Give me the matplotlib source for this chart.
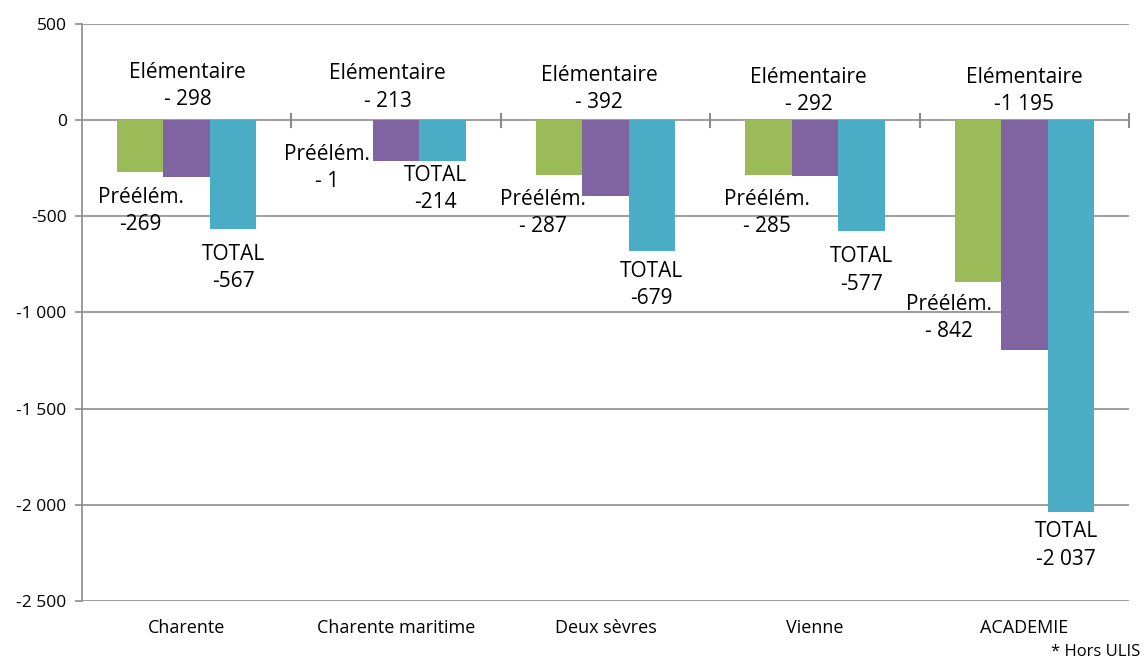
import matplotlib
matplotlib.use("Agg")
import matplotlib.pyplot as plt
import numpy as np

plt.rcParams['font.family'] = ['Open Sans', 'DejaVu Sans']

categories = ["Charente", "Charente maritime", "Deux sèvres", "Vienne", "ACADEMIE"]
preelem = [-269, -1, -287, -285, -842]
elem = [-298, -213, -392, -292, -1195]
total = [-567, -214, -679, -577, -2037]

preelem_txt = ["-269", "- 1", "- 287", "- 285", "- 842"]
elem_txt = ["- 298", "- 213", "- 392", "- 292", "-1 195"]
total_txt = ["-567", "-214", "-679", "-577", "-2 037"]

yticks = [500, 0, -500, -1000, -1500, -2000, -2500]
ytick_labels = ["500", "0", "-500", "-1 000", "-1 500", "-2 000", "-2 500"]

# label anchor positions (x offset from category centre, y in data units)
elem_pos = [(0.005, 179), (-0.04, 169), (-0.03, 163), (-0.03, 153), (0.0, 153)]
pre_pos = [(-0.22, -472), (-0.33, -249), (-0.30, -483), (-0.23, -483), (-0.36, -1028)]
tot_pos = [(0.225, -768), (0.19, -358), (0.22, -856), (0.22, -781), (0.20, -2211)]

colors = ["#9BBB59", "#8064A2", "#4BACC6"]
grid_c = "#8C8C8C"

fig = plt.figure(figsize=(11.45, 6.61), dpi=100)
ax = fig.add_axes([0.0716, 0.0908, 0.9145, 0.8729])

x = np.arange(len(categories))
w = 0.222
for k, (vals, c) in enumerate(zip([preelem, elem, total], colors)):
    ax.bar(x + (k - 1) * w, vals, width=w, color=c, zorder=3, linewidth=0)

ax.set_xlim(-0.5, len(categories) - 0.5)
ax.set_ylim(-2500, 500)
ax.set_yticks(yticks)
ax.set_yticklabels(ytick_labels, fontsize=12.5)
ax.yaxis.grid(True, color=grid_c, linewidth=1.2, zorder=0)
ax.tick_params(axis='y', length=5, color=grid_c, width=1.2, pad=6)
ax.set_xticks(x)
ax.set_xticklabels(categories, fontsize=13)
ax.tick_params(axis='x', length=0, pad=13)

for s in ['top', 'right', 'bottom']:
    ax.spines[s].set_visible(False)
ax.spines['left'].set_color(grid_c)
ax.spines['left'].set_linewidth(1.2)

# category tick marks on the zero axis
for b in np.arange(0.5, len(categories), 1.0):
    ax.plot([b, b], [-33, 33], color=grid_c, linewidth=1.5, zorder=4, clip_on=False)

fs = 15
for i in range(len(categories)):
    ax.text(x[i] + elem_pos[i][0], elem_pos[i][1], "Elémentaire\n" + elem_txt[i],
            ha='center', va='center', fontsize=fs, linespacing=1.4, zorder=5)
    ax.text(x[i] + pre_pos[i][0], pre_pos[i][1], "Préélém.\n" + preelem_txt[i],
            ha='center', va='center', fontsize=fs, linespacing=1.4, zorder=5)
    ax.text(x[i] + tot_pos[i][0], tot_pos[i][1], "TOTAL\n" + total_txt[i],
            ha='center', va='center', fontsize=fs, linespacing=1.4, zorder=5)

fig.text(0.996, 0.0135, "* Hors ULIS", ha='right', va='center', fontsize=12)

fig.savefig("out.png", dpi=100)
